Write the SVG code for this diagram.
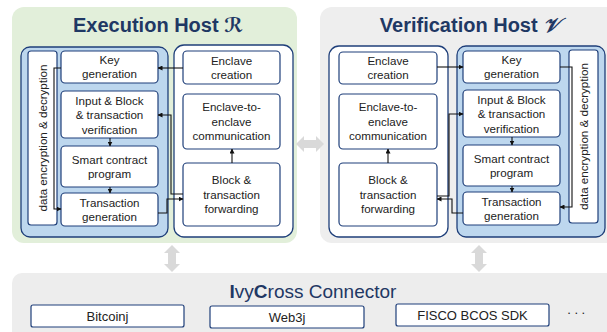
<svg xmlns="http://www.w3.org/2000/svg" width="607" height="332" viewBox="0 0 607 332">
  <style>
    .title { font-family: "Liberation Sans", Arial, sans-serif; font-size: 20px; font-weight: bold; fill: #1F3864; text-anchor: middle; }
    .sym { font-family: "DejaVu Serif", "DejaVu Sans", serif; font-style: italic; font-weight: bold; }
    .lbl { font-family: "Liberation Sans", Arial, sans-serif; font-size: 11.6px; fill: #222; text-anchor: middle; }
    .lib { font-family: "Liberation Sans", Arial, sans-serif; font-size: 13px; fill: #222; text-anchor: middle; }
    .conn-title { font-family: "Liberation Sans", Arial, sans-serif; font-size: 19px; fill: #1F3864; text-anchor: middle; }
    .box { fill: #ffffff; stroke: #1F3F7A; stroke-width: 1.2; }
    .enclave { fill: #BDD7EE; stroke: #1F3F7A; stroke-width: 1.3; }
    .host { fill: #ffffff; stroke: #1F3F7A; stroke-width: 1.3; }
    .wire-a { fill: none; stroke: #111; stroke-width: 1.1; marker-end: url(#tip); }
    .bus { fill: #D9D9D9; }
  </style>
  <defs>
    <marker id="tip" viewBox="0 0 10 10" refX="9" refY="5" markerWidth="5" markerHeight="5" orient="auto" markerUnits="userSpaceOnUse">
      <path d="M0,0 L10,5 L0,10 z" fill="#111"/>
    </marker>
  </defs>

  <!-- host panels -->
  <rect id="exec-host-bg" x="12" y="7" width="285" height="236" rx="12" fill="#E2EFDA"/>
  <rect id="verif-host-bg" x="320" y="7" width="300" height="236" rx="12" fill="#EEEEEE"/>
  <rect id="connector-bg" x="12" y="273" width="610" height="70" rx="10" fill="#EDEDED"/>

  <text class="title" x="158" y="32">Execution Host <tspan class="sym">ℛ</tspan></text>
  <text class="title" x="470" y="32">Verification Host <tspan class="sym">𝒱</tspan></text>

  <!-- Execution host: enclave side -->
  <g id="exec-enclave">
    <rect class="enclave" x="21" y="47" width="147" height="190" rx="9"/>
  </g>
  <g id="exec-crypto">
    <rect class="box" x="28" y="51" width="29" height="174" rx="3"/>
    <text class="lbl" transform="translate(47,138) rotate(-90)">data encryption &amp; decryption</text>
  </g>
  <g id="exec-keygen">
    <rect class="box" x="61" y="51" width="97" height="32" rx="4"/>
    <text class="lbl" x="109.5" y="64.2">Key</text>
    <text class="lbl" x="109.5" y="78.2">generation</text>
  </g>
  <g id="exec-verify">
    <rect class="box" x="61" y="91" width="97" height="47" rx="4"/>
    <text class="lbl" x="109.5" y="104.5">Input &amp; Block</text>
    <text class="lbl" x="109.5" y="119">&amp; transaction</text>
    <text class="lbl" x="109.5" y="133.5">verification</text>
  </g>
  <g id="exec-contract">
    <rect class="box" x="61" y="146" width="97" height="41" rx="4"/>
    <text class="lbl" x="109.5" y="163.7">Smart contract</text>
    <text class="lbl" x="109.5" y="177.7">program</text>
  </g>
  <g id="exec-txgen">
    <rect class="box" x="61" y="193" width="97" height="33" rx="4"/>
    <text class="lbl" x="109.5" y="206.7">Transaction</text>
    <text class="lbl" x="109.5" y="220.7">generation</text>
  </g>

  <!-- Execution host: untrusted side -->
  <g id="exec-host">
    <rect class="host" x="174" y="45" width="119" height="192" rx="10"/>
  </g>
  <g id="exec-create">
    <rect class="box" x="183" y="51" width="97" height="33" rx="4"/>
    <text class="lbl" x="231.5" y="64.7">Enclave</text>
    <text class="lbl" x="231.5" y="78.7">creation</text>
  </g>
  <g id="exec-e2e">
    <rect class="box" x="183" y="94" width="97" height="55" rx="4"/>
    <text class="lbl" x="231.5" y="111.2">Enclave-to-</text>
    <text class="lbl" x="231.5" y="125.7">enclave</text>
    <text class="lbl" x="231.5" y="140.2">communication</text>
  </g>
  <g id="exec-forward">
    <rect class="box" x="183" y="163" width="97" height="63" rx="4"/>
    <text class="lbl" x="231.5" y="184.2">Block &amp;</text>
    <text class="lbl" x="231.5" y="198.7">transaction</text>
    <text class="lbl" x="231.5" y="213.2">forwarding</text>
  </g>

  <!-- Verification host: untrusted side -->
  <g id="verif-host">
    <rect class="host" x="329" y="46" width="119" height="191" rx="10"/>
  </g>
  <g id="verif-create">
    <rect class="box" x="339" y="52" width="98" height="32" rx="4"/>
    <text class="lbl" x="388" y="65.2">Enclave</text>
    <text class="lbl" x="388" y="79.2">creation</text>
  </g>
  <g id="verif-e2e">
    <rect class="box" x="339" y="94" width="98" height="55" rx="4"/>
    <text class="lbl" x="388" y="111.2">Enclave-to-</text>
    <text class="lbl" x="388" y="125.7">enclave</text>
    <text class="lbl" x="388" y="140.2">communication</text>
  </g>
  <g id="verif-forward">
    <rect class="box" x="339" y="163" width="98" height="63" rx="4"/>
    <text class="lbl" x="388" y="184.2">Block &amp;</text>
    <text class="lbl" x="388" y="198.7">transaction</text>
    <text class="lbl" x="388" y="213.2">forwarding</text>
  </g>

  <!-- Verification host: enclave side -->
  <g id="verif-enclave">
    <rect class="enclave" x="457" y="46" width="148" height="191" rx="9"/>
  </g>
  <g id="verif-keygen">
    <rect class="box" x="463" y="51" width="97" height="32" rx="4"/>
    <text class="lbl" x="511.5" y="64.2">Key</text>
    <text class="lbl" x="511.5" y="78.2">generation</text>
  </g>
  <g id="verif-verify">
    <rect class="box" x="463" y="90" width="97" height="47" rx="4"/>
    <text class="lbl" x="511.5" y="103.5">Input &amp; Block</text>
    <text class="lbl" x="511.5" y="118">&amp; transaction</text>
    <text class="lbl" x="511.5" y="132.5">verification</text>
  </g>
  <g id="verif-contract">
    <rect class="box" x="463" y="145" width="97" height="41" rx="4"/>
    <text class="lbl" x="511.5" y="162.7">Smart contract</text>
    <text class="lbl" x="511.5" y="176.7">program</text>
  </g>
  <g id="verif-txgen">
    <rect class="box" x="463" y="192" width="97" height="33" rx="4"/>
    <text class="lbl" x="511.5" y="205.7">Transaction</text>
    <text class="lbl" x="511.5" y="219.7">generation</text>
  </g>
  <g id="verif-crypto">
    <rect class="box" x="569" y="50" width="29" height="173" rx="3"/>
    <text class="lbl" transform="translate(588,136.5) rotate(-90)">data encryption &amp; decryption</text>
  </g>

  <!-- Connector layer -->
  <g id="connector">
    <text class="conn-title" x="313" y="298"><tspan font-weight="bold">I</tspan>vy<tspan font-weight="bold">C</tspan>ross Connector</text>
    <g id="lib-bitcoinj">
      <rect class="box" x="31" y="305" width="153" height="22" rx="2"/>
      <text class="lib" x="107.5" y="320.5">Bitcoinj</text>
    </g>
    <g id="lib-web3j">
      <rect class="box" x="210" y="306" width="154" height="22" rx="2"/>
      <text class="lib" x="287" y="321.5">Web3j</text>
    </g>
    <g id="lib-fisco">
      <rect class="box" x="396" y="304" width="153" height="22" rx="2"/>
      <text class="lib" x="472.5" y="319.5">FISCO BCOS SDK</text>
    </g>
    <text class="lib" x="578" y="314" letter-spacing="3.5" fill="#444">...</text>
  </g>

  <!-- connectors -->
  <g id="edges">
    <!-- execution host -->
    <path class="wire-a" d="M183,68 H158"/>
    <path class="wire-a" d="M61,68 H54 V209 H61"/>
    <path class="wire-a" d="M183,194 H171 V115 H158"/>
    <path class="wire-a" d="M158,213 H167 V199 H183"/>
    <path class="wire-a" d="M110,138 V146"/>
    <path class="wire-a" d="M110,187 V193"/>
    <path class="wire-a" d="M232,163 V149"/>
    <!-- verification host -->
    <path class="wire-a" d="M437,67 H463"/>
    <path class="wire-a" d="M560,67 H572 V207 H560"/>
    <path class="wire-a" d="M437,196 H449 V114 H463"/>
    <path class="wire-a" d="M463,213 H452 V199 H437"/>
    <path class="wire-a" d="M512,137 V145"/>
    <path class="wire-a" d="M512,186 V192"/>
    <path class="wire-a" d="M388,163 V149"/>
    <!-- host-to-host and host-to-connector links -->
    <polygon class="bus" points="296,144 304,136 304,140 316,140 316,136 324,144 316,152 316,148 304,148 304,152"/>
    <polygon class="bus" points="172,245 180,253 176,253 176,264 180,264 172,272 164,264 168,264 168,253 164,253"/>
    <polygon class="bus" points="479,245 487,253 483,253 483,264 487,264 479,272 471,264 475,264 475,253 471,253"/>
  </g>
</svg>
